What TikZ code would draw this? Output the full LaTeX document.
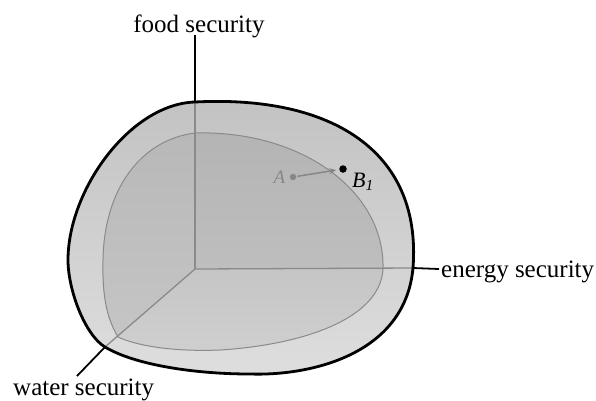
\documentclass[tikz,border=0pt]{standalone}
\usepackage{fontspec}
\setmainfont{Liberation Serif}
\usetikzlibrary{arrows.meta,positioning}
\definecolor{cShellTop}{RGB}{194,194,194}
\definecolor{cShellBot}{RGB}{222,222,222}
\definecolor{cFaceTop}{RGB}{180,180,180}
\definecolor{cFaceMid}{RGB}{190,190,190}
\definecolor{cFaceLow}{RGB}{197,197,197}
\definecolor{cFaceBot}{RGB}{207,207,207}
\definecolor{cLine}{RGB}{138,138,138}
\definecolor{cDotA}{RGB}{135,135,135}
\tikzset{
	rim/.style={draw=black, line width=2.8pt, line join=round},
	axout/.style={draw=black, line width=1.8pt},
	axin/.style={draw=cLine, line width=1.3pt},
	arcin/.style={draw=cLine, line width=1pt},
	lab/.style={font=\fontsize{25}{30}\selectfont, inner sep=0pt},
	pnt/.style={circle, inner sep=0pt, minimum size=7pt},
	marr/.style={-{Stealth[length=7pt,width=6pt]}, line width=1.5pt,
		draw=cDotA, shorten <=1pt, shorten >=3pt},
}
% outer hull and the three inner arcs
\def\hullpath{(fOut) .. controls (330,95) and (422,150) .. (eOut)
	.. controls (405,355) and (310,376) .. (250,374)
	.. controls (195,374) and (135,365) .. (wOut)
	.. controls (85,335) and (68,290) .. (68,260)
	.. controls (68,190) and (130,104) .. (fOut) -- cycle}
\def\arcFE{(fIn) .. controls (300,130) and (385,190) .. (eIn)}
\def\arcFW{(fIn) .. controls (140,140) and (104,190) .. (103,260)
	.. controls (102,300) and (108,320) .. (wIn)}
\def\arcEW{(eIn) .. controls (380,320) and (300,345) .. (220,350)
	.. controls (170,352) and (135,345) .. (wIn)}
\begin{document}
\begin{tikzpicture}[x=1pt, y=-1pt]
	\useasboundingbox (0,0) rectangle (596,400);
	% axis points
	\coordinate (O) at (195,269);
	\coordinate (fTop) at (195,35);
	\coordinate (fOut) at (195,102);
	\coordinate (fIn) at (195,133);
	\coordinate (eEnd) at (439,269);
	\coordinate (eOut) at (413,268);
	\coordinate (eIn) at (383,269);
	\coordinate (wEnd) at (77,376);
	\coordinate (wOut) at (105,347);
	\coordinate (wIn) at (118,337);
	% shell and inner faces
	\shade[top color=cShellTop, bottom color=cShellBot] \hullpath;
	\shade[top color=cFaceTop, bottom color=cFaceMid] (O) -- \arcFE -- cycle;
	\shade[top color=cFaceTop!60!cFaceMid, bottom color=cFaceLow] (O) -- \arcFW -- cycle;
	\shade[top color=cFaceLow, bottom color=cFaceBot] (O) -- \arcEW -- cycle;
	\draw[arcin] \arcFE;
	\draw[arcin] \arcFW;
	\draw[arcin] \arcEW;
	% axes
	\draw[axin] (O) -- (fOut);
	\draw[axin] (O) -- (eOut);
	\draw[axin] (O) -- (wOut);
	\draw[rim] \hullpath;
	\draw[axout] (fTop) -- (fOut);
	\draw[axout] (eOut) -- (eEnd);
	\draw[axout] (wOut) -- (wEnd);
	\node[lab, anchor=base] (food) at (199,32) {food security};
	\node[lab, anchor=base west] (energy) at (441,277) {energy security};
	\node[lab, anchor=base west] (water) at (13,395) {water security};
	% points
	\node[pnt, fill=cDotA, minimum size=6.5pt] (adot) at (293,177) {};
	\node[pnt, fill=black, minimum size=7.5pt] (bdot) at (343,169) {};
	\node[left=4pt of adot, inner sep=0pt, text=cDotA,
		font=\fontsize{19}{22}\selectfont\itshape] (aname) {A};
	\node[anchor=base west, inner sep=0pt,
		font=\fontsize{22}{26}\selectfont\itshape] (bname) at (352,187)
		{B\textsubscript{1}};
	\draw[marr] (adot) -- (bdot);
\end{tikzpicture}
\end{document}
